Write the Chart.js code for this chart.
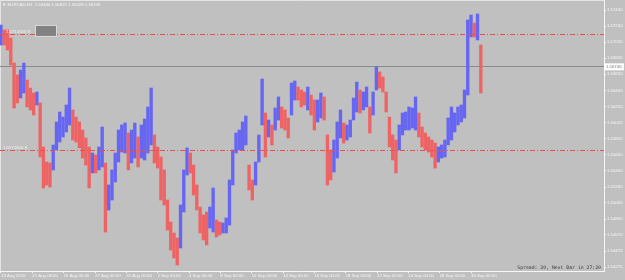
<!DOCTYPE html>
<html>
<head>
<meta charset="utf-8">
<script src="https://cdn.jsdelivr.net/npm/chart.js@4.4.0/dist/chart.umd.min.js"></script>
<style>
  html, body { margin: 0; padding: 0; background: #c0c0c0; }
  #wrap { width: 625px; height: 280px; }
</style>
</head>
<body>
<div id="wrap"><canvas id="c" width="625" height="280"></canvas></div>
<script>
const titleText = '\u25BC EURCAD,H1  1.56484 1.56822 1.56428 1.56746';
const spreadText = 'Spread: 20, Next Bar in 27:20';

// one bar every 5 hours starting 19 Aug 2020, prices x 1e5
const barStepHours = 5;
const barHighs = [
  157255, 157194, 157194, 157095, 156787, 156640, 156701, 156787, 156578, 156479,
  156418, 156430, 156295, 155753, 155568, 155556, 155778, 156061, 156184, 156122,
  156270, 156479, 156209, 156122, 156061, 155962, 155864, 155753, 155679, 155654,
  155753, 155999, 155556, 155285, 155470, 155679, 155962, 156024, 156048, 155925,
  155962, 156048, 155876, 156024, 156098, 156246, 156479, 155901, 155753, 155630,
  155470, 155100, 154829, 154694, 154632, 155039, 155470, 155741, 155679, 155531,
  155285, 155014, 154916, 154952, 155014, 155248, 154854, 154829, 154817, 154879,
  155347, 155716, 155925, 155962, 156061, 156135, 155531, 155347, 155568, 155901,
  156590, 156172, 156085, 156024, 156233, 156369, 156246, 156209, 156110, 156541,
  156566, 156492, 156455, 156430, 156492, 156393, 156332, 156332, 156418, 156369,
  155901, 155716, 155839, 156061, 156209, 156048, 156024, 156085, 156356, 156553,
  156455, 156430, 156492, 156246, 156430, 156738, 156677, 156615, 156430, 156122,
  155901, 155839, 156024, 156172, 156184, 156246, 156233, 156369, 156172, 155999,
  155925, 155876, 155839, 155802, 155753, 155778, 155839, 156110, 156246, 156172,
  156246, 156270, 156455, 157317, 157378, 157280, 157391, 157009
];
const barLows = [
  157009, 157009, 156947, 156763, 156233, 156295, 156356, 156418, 156246, 156209,
  156147, 156270, 155630, 155248, 155285, 155260, 155470, 155716, 155814, 155876,
  155938, 156024, 155839, 155814, 155741, 155617, 155531, 155248, 155433, 155433,
  155470, 155507, 154706, 154977, 155100, 155322, 155568, 155691, 155679, 155470,
  155556, 155617, 155507, 155617, 155593, 155679, 155778, 155556, 155494, 155100,
  155039, 154731, 154484, 154386, 154300, 154509, 154952, 155408, 155433, 155162,
  154977, 154694, 154608, 154546, 154755, 154706, 154645, 154669, 154694, 154694,
  154792, 155285, 155679, 155716, 155716, 155778, 155223, 155100, 155285, 155568,
  156024, 155630, 155876, 155778, 155962, 156085, 155987, 155962, 155864, 156147,
  156332, 156332, 156246, 156270, 156209, 156147, 155962, 156061, 156110, 156085,
  155285, 155347, 155445, 155617, 155864, 155802, 155839, 155876, 156085, 156184,
  156172, 156209, 156246, 155925, 156147, 156455, 156479, 156430, 156184, 155753,
  155593, 155433, 155716, 155901, 155962, 155962, 155987, 155962, 155876, 155753,
  155716, 155691, 155630, 155494, 155568, 155617, 155630, 155778, 155839, 155938,
  156024, 156061, 156110, 156393, 157108, 157108, 157071, 156418
];

const dateTicks = [0, 48, 96, 144, 192, 240, 288, 336, 384, 432, 480, 528, 576, 624, 672, 720];
const dateLabels = ['19 Aug 2020', '21 Aug 08:00', '25 Aug 00:00', '27 Aug 00:00', '31 Aug 00:00',
  '2 Sep 00:00', '4 Sep 00:00', '8 Sep 00:00', '10 Sep 00:00', '14 Sep 00:00', '16 Sep 00:00',
  '18 Sep 00:00', '22 Sep 00:00', '24 Sep 00:00', '28 Sep 00:00', '30 Sep 00:00'];

const priceTicks = [1.57440, 1.57240, 1.57045, 1.56845, 1.56650, 1.56450, 1.56250, 1.56055,
  1.55855, 1.55660, 1.55460, 1.55260, 1.55065, 1.54865, 1.54670, 1.54470, 1.54275];
const priceLabels = ['1.57440', '1.57240', '1.57045', '1.56845', '1.56650', '1.56450', '1.56250',
  '1.56055', '1.55855', '1.55660', '1.55460', '1.55260', '1.55065', '1.54865', '1.54670',
  '1.54470', '1.54275'];

const lastPrice = 1.56746;
const levelPrices = [1.57145, 1.55716];
const levelNames = ['1.5714500 R', '1.5571600 S'];

const upColor = '#6666f2';
const downColor = '#ee6464';
const axisColor = '#f6f6f6';
const tickFont = { family: 'Liberation Sans', size: 4.3 };

const bars = barHighs.map((h, i) => ({ x: i * barStepHours, y: [barLows[i] / 1e5, h / 1e5] }));
const barColors = bars.map((b, i) => {
  const mid = (b.y[0] + b.y[1]) / 2;
  const prev = i ? (bars[i - 1].y[0] + bars[i - 1].y[1]) / 2 : mid;
  return mid >= prev ? upColor : downColor;
});

const overlay = {
  id: 'overlay',
  beforeDatasetsDraw(chart) {
    const { ctx, chartArea: a, scales: { y } } = chart;
    ctx.save();
    ctx.strokeStyle = '#e4e4e4';
    ctx.lineWidth = 1;
    ctx.beginPath();
    ctx.moveTo(a.left + 0.5, a.bottom);
    ctx.lineTo(a.left + 0.5, a.top + 0.5);
    ctx.lineTo(a.right, a.top + 0.5);
    ctx.stroke();
    const py = Math.round(y.getPixelForValue(lastPrice)) + 0.5;
    ctx.strokeStyle = '#8a8a8a';
    ctx.beginPath();
    ctx.moveTo(a.left, py);
    ctx.lineTo(a.right, py);
    ctx.stroke();
    ctx.restore();
  },
  afterDatasetsDraw(chart) {
    const { ctx, chartArea: a, scales: { y } } = chart;
    ctx.save();
    levelPrices.forEach((p, i) => {
      const py = Math.round(y.getPixelForValue(p)) + 0.5;
      ctx.strokeStyle = '#e8504f';
      ctx.lineWidth = 1;
      ctx.setLineDash([5, 2, 1, 2]);
      ctx.beginPath();
      ctx.moveTo(a.left, py);
      ctx.lineTo(a.right, py);
      ctx.stroke();
      ctx.setLineDash([]);
      ctx.fillStyle = '#f4f4f4';
      ctx.font = '4.3px "Liberation Sans"';
      ctx.textBaseline = 'bottom';
      ctx.textAlign = 'left';
      ctx.fillText(levelNames[i], i === 0 ? 6 : 3, py - 1);
    });
    // small grey box next to the upper level label
    const by = y.getPixelForValue(levelPrices[0]);
    ctx.fillStyle = '#828282';
    ctx.fillRect(36, by - 8, 20, 10);
    ctx.strokeStyle = '#d8d8d8';
    ctx.strokeRect(35.5, by - 8.5, 21, 11);

    ctx.fillStyle = '#f6f6f6';
    ctx.font = '4.3px "Liberation Sans"';
    ctx.textBaseline = 'middle';
    ctx.fillText(titleText, 2, 4.5);

    ctx.fillStyle = '#3c3c3c';
    ctx.font = '4.8px "DejaVu Sans Mono"';
    ctx.textAlign = 'right';
    ctx.fillText(spreadText, a.right - 3, 267.5);
    ctx.restore();
  },
  afterDraw(chart) {
    const { ctx, chartArea: a, scales: { y } } = chart;
    const py = y.getPixelForValue(lastPrice);
    ctx.save();
    ctx.fillStyle = '#ffffff';
    ctx.fillRect(a.right, py - 3, 20, 7);
    ctx.fillStyle = '#777777';
    ctx.font = '4.3px "Liberation Sans"';
    ctx.textBaseline = 'middle';
    ctx.textAlign = 'left';
    ctx.fillText(lastPrice.toFixed(5), a.right + 2, py + 0.5);
    ctx.restore();
  }
};

new Chart(document.getElementById('c'), {
  type: 'bar',
  data: {
    datasets: [{
      data: bars,
      backgroundColor: barColors,
      borderWidth: 0,
      barThickness: 2.7
    }]
  },
  options: {
    responsive: false,
    animation: false,
    devicePixelRatio: 1,
    layout: { padding: 0 },
    plugins: { legend: { display: false }, tooltip: { enabled: false } },
    scales: {
      x: {
        type: 'linear',
        position: 'bottom',
        offset: false,
        min: -1.53,
        max: 923.7,
        afterBuildTicks: s => { s.ticks = dateTicks.map(v => ({ value: v })); },
        afterFit: s => { s.height = 9; s.paddingLeft = 0; s.paddingRight = 0; },
        grid: { drawOnChartArea: false, offset: false, tickLength: 2, color: axisColor },
        border: { color: axisColor },
        ticks: {
          autoSkip: false, maxRotation: 0, align: 'start', padding: 0,
          color: axisColor, font: tickFont,
          callback: (v, i) => dateLabels[i]
        }
      },
      y: {
        type: 'linear',
        position: 'right',
        min: 1.542258,
        max: 1.575632,
        afterBuildTicks: s => { s.ticks = priceTicks.map(v => ({ value: v })); },
        afterFit: s => { s.width = 21; s.paddingTop = 0; s.paddingBottom = 0; },
        grid: { drawOnChartArea: false, tickLength: 2, color: axisColor },
        border: { color: axisColor },
        ticks: {
          autoSkip: false, padding: 1, color: axisColor, font: tickFont,
          callback: (v, i) => priceLabels[i]
        }
      }
    }
  },
  plugins: [overlay]
});
</script>
</body>
</html>
